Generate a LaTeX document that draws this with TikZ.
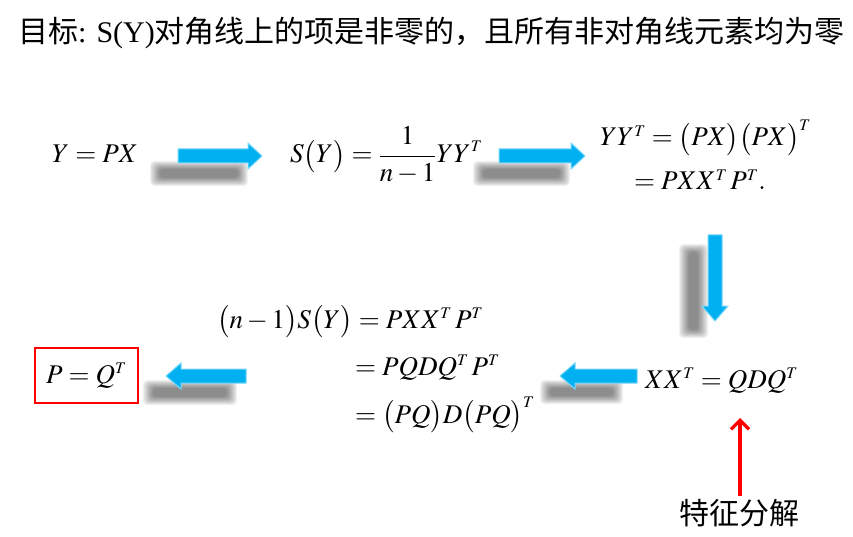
\documentclass[tikz,border=0pt]{standalone}
\usepackage{mathptmx}
\usepackage[no-math]{fontspec}
\setmainfont{Liberation Serif}
\newfontfamily\cjk{Noto Sans CJK SC}
\usetikzlibrary{arrows.meta,calc}
\definecolor{arrcyan}{RGB}{0,176,240}
\definecolor{arredge}{RGB}{120,215,250}
\tikzset{
  arrowsty/.style={fill=arrcyan, draw=arredge, line width=1pt, line join=miter},
  mathtxt/.style={font=\fontsize{27}{32}\selectfont, inner sep=0pt},
  cjktxt/.style={font=\fontsize{30}{36}\selectfont\cjk, inner sep=0pt},
  redbox/.style={draw=red, line width=1.3pt, inner sep=0pt},
}
\newcommand\Tp{^{\scriptscriptstyle T}}
% blurred shadow: x1 y1 x2 y2 (outer extent)
\newcommand\blurshade[4]{%
  \foreach \k in {0,...,9}{%
    \fill[black, opacity=0.055, rounded corners=4pt]
      (#1+\k*1.1,#2+\k*0.9) rectangle (#3-\k*1.1,#4-\k*0.9);}}
% right block arrow: x1 x2 yc
\newcommand\rblock[3]{%
  \filldraw[arrowsty] (#1,#3-7) -- (#2-14,#3-7) -- (#2-14,#3-13) -- (#2,#3)
    -- (#2-14,#3+13) -- (#2-14,#3+7) -- (#1,#3+7) -- cycle;}
% left block arrow: x1(tip) x2 yc
\newcommand\lblock[3]{%
  \filldraw[arrowsty] (#2,#3-7) -- (#1+15,#3-7) -- (#1+15,#3-13) -- (#1,#3)
    -- (#1+15,#3+13) -- (#1+15,#3+7) -- (#2,#3+7) -- cycle;}
% down block arrow: xc y1 y2(tip)
\newcommand\dblock[3]{%
  \filldraw[arrowsty] (#1-7,#2) -- (#1-7,#3-15) -- (#1-13,#3-15) -- (#1,#3)
    -- (#1+13,#3-15) -- (#1+7,#3-15) -- (#1+7,#2) -- cycle;}
\begin{document}
\begin{tikzpicture}[x=1pt,y=-1pt]
\useasboundingbox (0,0) rectangle (853,537);
\fill[white] (0,0) rectangle (853,537);

% title
\node[anchor=base west, inner sep=0pt, font=\fontsize{30}{36}\selectfont] (title) at (18,43)
  {{\cjk 目标}: S(Y){\cjk 对角线上的项是非零的，且所有非对角线元素均为零}};

% shadows
\blurshade{150}{161}{248}{186}
\blurshade{473}{161}{570}{186}
\blurshade{679}{244}{708}{338}
\blurshade{143}{380}{237}{405}
\blurshade{540}{380}{623}{404}

% block arrows
\rblock{178}{262}{156}
\rblock{499}{585}{156}
\dblock{715}{235}{321}
\lblock{166}{246}{376}
\lblock{560}{637}{376}

% formulas
\node[mathtxt, anchor=base west] (ypx) at (52,163) {$Y = PX$};
\node[mathtxt, anchor=base west] (sy) at (290,163)
  {$S\big(Y\big) = \displaystyle\frac{1}{n-1}YY\Tp$};
\node[mathtxt, anchor=base west] (yyt) at (600,146)
  {$YY\Tp = \big(PX\big)\big(PX\big)\Tp$};
\node[mathtxt, anchor=base west] (yyt2) at (634,190) {$= PXX\Tp\, P\Tp.$};
\node[mathtxt, anchor=base west] (eq1) at (217,328)
  {$\big(n-1\big)S\big(Y\big) = PXX\Tp\, P\Tp$};
\node[mathtxt, anchor=base west] (eq2) at (355,375) {$= PQDQ\Tp\, P\Tp$};
\node[mathtxt, anchor=base west] (eq3) at (355,423)
  {$= \big(PQ\big)D\big(PQ\big)\Tp$};
\node[mathtxt, anchor=base west] (xxt) at (645,388) {$XX\Tp = QDQ\Tp$};

% boxed result
\node[redbox, minimum width=103pt, minimum height=55pt] (box) at (86.5,375.5) {};
\node[mathtxt] (res) at (box.center) {$P = Q\Tp$};

% eigen decomposition label and red arrow
\node[cjktxt, anchor=base] (eig) at (739,524) {特征分解};
\coordinate (rtail) at (740,496);
\coordinate (rhead) at (740,418);
\draw[red, line width=3.2pt, -{Straight Barb[length=9pt,width=18pt,line width=3.2pt]}]
  (rtail) -- (rhead);
\end{tikzpicture}
\end{document}
